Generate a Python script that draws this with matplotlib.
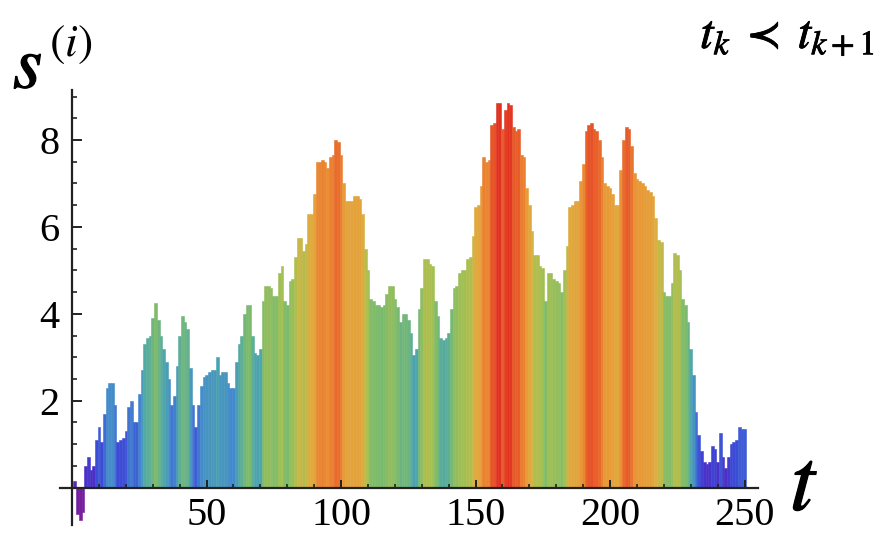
import numpy as np
import matplotlib
matplotlib.use("Agg")
import matplotlib.pyplot as plt
from matplotlib.colors import LinearSegmentedColormap, Normalize
from matplotlib import patheffects as pe

plt.rcParams['mathtext.fontset'] = 'stix'

# ---- data ----
s_t001_050 = [0.15, -0.6, -0.75, -0.55, 0.5, 0.7, 0.4, 0.5, 1.1, 1.4,
              1.05, 1.7, 2.3, 2.4, 2.4, 1.9, 1.05, 1.1, 1.15, 1.3,
              1.85, 2.0, 1.5, 1.5, 2.15, 2.7, 3.3, 3.45, 3.5, 3.9,
              4.25, 3.85, 3.5, 3.2, 2.9, 2.5, 1.9, 2.1, 2.8, 3.5,
              3.95, 3.8, 3.65, 2.75, 1.9, 1.4, 1.9, 2.35, 2.55, 2.6]
s_t051_100 = [2.65, 2.7, 2.7, 3.0, 2.6, 2.65, 2.65, 2.4, 2.3, 2.3,
              2.9, 3.3, 3.5, 4.0, 4.2, 4.2, 3.5, 3.1, 3.05, 3.2,
              4.3, 4.65, 4.65, 4.6, 4.4, 4.4, 4.95, 5.1, 4.3, 4.2,
              4.75, 4.8, 5.3, 5.75, 5.75, 5.45, 5.6, 6.3, 6.3, 6.75,
              7.5, 7.5, 7.55, 7.5, 7.35, 7.6, 7.65, 8.0, 7.95, 7.65]
s_t101_150 = [7.0, 6.6, 6.6, 6.6, 6.7, 6.7, 6.65, 6.3, 5.5, 5.0,
              4.35, 4.3, 4.2, 4.2, 4.15, 4.2, 4.45, 4.65, 4.65, 4.35,
              4.15, 3.8, 4.0, 4.0, 3.85, 3.55, 3.05, 3.2, 4.1, 4.6,
              5.25, 5.25, 5.15, 5.1, 4.3, 3.95, 3.45, 3.4, 3.45, 3.55,
              4.1, 4.6, 4.65, 4.95, 5.0, 5.0, 5.25, 5.3, 5.8, 6.45]
s_t151_200 = [6.5, 6.95, 7.6, 7.5, 7.55, 8.35, 8.4, 8.85, 8.85, 8.25,
              8.7, 8.85, 8.8, 8.3, 8.2, 8.25, 7.65, 7.6, 6.9, 6.5,
              5.9, 5.35, 5.35, 5.1, 5.05, 4.3, 4.95, 4.95, 4.8, 4.75,
              4.7, 4.5, 5.0, 5.55, 6.45, 6.5, 6.6, 6.6, 7.05, 7.45,
              8.2, 8.35, 8.4, 8.25, 8.2, 8.0, 7.6, 7.0, 6.95, 6.9]
s_t201_250 = [6.75, 6.5, 6.5, 7.3, 8.0, 8.3, 8.25, 7.85, 7.25, 7.1,
              7.05, 7.0, 6.95, 6.85, 6.8, 6.7, 6.2, 5.7, 5.65, 4.5,
              4.4, 4.4, 4.7, 5.4, 5.35, 5.0, 4.35, 4.2, 3.8, 3.2,
              2.6, 1.75, 1.2, 0.85, 0.6, 0.55, 0.6, 0.95, 0.88, 0.6,
              1.25, 0.7, 0.45, 0.7, 1.0, 1.05, 1.1, 1.4, 1.35, 1.35]

values = np.array(s_t001_050 + s_t051_100 + s_t101_150 + s_t151_200 + s_t201_250)
t = np.arange(1, len(values) + 1)

x_ticks = [50, 100, 150, 200, 250]
y_ticks = [2, 4, 6, 8]

# ---- colour map (rainbow-like, by height) ----
stops = [(0.00, '#7a1c98'), (0.13, '#4c2fc6'), (0.18, '#3c46d6'),
         (0.31, '#4388cf'), (0.41, '#4fa8a8'), (0.51, '#7cbb6c'),
         (0.61, '#a8c050'), (0.71, '#dcb040'), (0.82, '#eb9434'),
         (0.92, '#e8602a'), (1.00, '#e02a20')]
cmap = LinearSegmentedColormap.from_list('rb', stops)
norm = Normalize(vmin=-0.8, vmax=9.0)
colors = cmap(norm(values))

W, H = 887, 536
fig = plt.figure(figsize=(W / 100, H / 100), dpi=100)
left, right, bottom, top = 60, 758, 525, 90
ax = fig.add_axes([left / W, 1 - bottom / H, (right - left) / W, (bottom - top) / H])

ax.bar(t, values, width=1.0, color=colors, edgecolor=colors, linewidth=0.4)

ax.set_xlim(-4.5, 255)
ax.set_ylim(-0.86, 9.15)

for s in ['top', 'right']:
    ax.spines[s].set_visible(False)
ax.spines['left'].set_position(('data', 0))
ax.spines['bottom'].set_position(('data', 0))
for s in ['left', 'bottom']:
    ax.spines[s].set_linewidth(1.6)
    ax.spines[s].set_color('#222222')

ax.set_xticks(x_ticks)
ax.set_xticklabels([str(v) for v in x_ticks])
ax.set_xticks(np.arange(10, 251, 10), minor=True)
ax.set_yticks(y_ticks)
ax.set_yticklabels([str(v) for v in y_ticks])
ax.set_yticks(np.arange(0.5, 9.01, 0.5), minor=True)

for lab in ax.get_xticklabels() + ax.get_yticklabels():
    lab.set_fontfamily('Liberation Serif')
    lab.set_fontsize(29)

ax.tick_params(axis='x', which='major', direction='in', length=6, width=1.4, pad=7, colors='#222222')
ax.tick_params(axis='x', which='minor', direction='in', length=3, width=1.2, colors='#222222')
ax.tick_params(axis='y', which='major', direction='in', length=7, width=1.4, pad=9, colors='#222222')
ax.tick_params(axis='y', which='minor', direction='in', length=3.5, width=1.2, colors='#222222')
ax.tick_params(labelcolor='black')
ax.patch.set_alpha(0)

thick = [pe.withStroke(linewidth=0.9, foreground='black')]
fig.text(13 / W, 1 - 88 / H, r'$s$', fontsize=54, ha='left', va='baseline', path_effects=thick)
fig.text(49 / W, 1 - 56 / H, r'$(i)$', fontsize=33, ha='left', va='baseline')
fig.text(700 / W, 1 - 48 / H, r'$t_k\;\prec\;t_{k+1}$', fontsize=35, ha='left', va='baseline',
         path_effects=[pe.withStroke(linewidth=0.6, foreground='black')])
fig.text(790 / W, 1 - 510 / H, r'$t$', fontsize=64, ha='left', va='baseline',
         path_effects=thick)

fig.savefig('out.png', dpi=100)
